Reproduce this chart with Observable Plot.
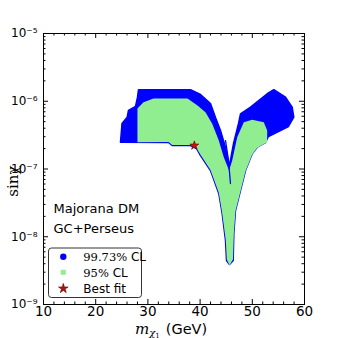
<!DOCTYPE html>
<html>
<head>
<meta charset="utf-8">
<script src="https://cdn.jsdelivr.net/npm/d3@7"></script>
<script src="https://cdn.jsdelivr.net/npm/@observablehq/plot@0.6"></script>
<style>
  html, body { margin: 0; padding: 0; background: #fff; }
  svg { display: block; }
</style>
</head>
<body>
<div id="chart"></div>
<script>
// ---- data ----
// 99.73% CL region outline (mass in GeV, sin chi)
const blueMass = [24.75, 25.04, 26.03, 26.28, 27.62, 28.0, 28.2, 38.16, 40.08, 41.99, 42.95, 43.91, 44.87, 45.6,
  46.40, 47.36, 47.74, 49.66, 52.85, 54.12, 56.36, 57.64, 57.95, 56.93, 55.40, 53.10, 52.53,
  50.94, 49.98, 48.70, 47.74, 46.78, 46.46, 46.34, 45.63, 45.06, 44.87, 44.23, 43.58, 41.99, 40.08, 39.31, 38.16, 34.66, 33.95];
const blueSin = [2.49e-7, 4.70e-7, 5.82e-7, 7.30e-7, 8.37e-7, 1.14e-6, 1.48e-6, 1.48e-6, 1.26e-6, 9.27e-7, 5.76e-7, 3.70e-7, 2.08e-7, 1.10e-7,
  2.38e-7, 4.70e-7, 6.53e-7, 8.17e-7, 1.29e-6, 1.48e-6, 1.15e-6, 8.17e-7, 5.82e-7, 4.24e-7, 3.70e-7, 3.02e-7, 2.46e-7,
  2.10e-7, 1.68e-7, 9.5e-8, 4.82e-8, 2.44e-8, 1.12e-8, 4.46e-9, 3.89e-9, 4.46e-9, 8.8e-9, 2.20e-8, 4.35e-8, 9.5e-8, 1.58e-7, 2.01e-7, 2.22e-7, 2.22e-7, 2.46e-7];
// 95% CL region outline
const greenMass = [28.0, 28.0, 29.16, 31.07, 37.59, 39.5, 41.03, 42.32, 43.58, 44.54, 45.55,
  46.15, 47.11, 48.37, 49.98, 52.20, 52.85, 52.85, 50.94, 49.98, 48.70, 47.74, 46.78, 46.46, 46.30, 45.63, 45.12, 44.92, 44.23, 43.58, 41.99, 40.08, 39.31, 38.16, 34.66, 33.95];
const greenSin = [2.49e-7, 7.82e-7, 9.7e-7, 1.10e-6, 1.10e-6, 8.65e-7, 6.89e-7, 4.65e-7, 2.63e-7, 1.49e-7, 9.5e-8,
  1.34e-7, 2.95e-7, 4.91e-7, 5.32e-7, 4.91e-7, 3.70e-7, 2.49e-7, 2.06e-7, 1.64e-7, 9.3e-8, 4.7e-8, 2.4e-8, 1.1e-8, 4.6e-9, 3.8e-9, 4.6e-9, 8.9e-9, 2.25e-8, 4.45e-8, 9.7e-8, 1.62e-7, 2.05e-7, 2.26e-7, 2.26e-7, 2.5e-7];
// thin 99.73% streak inside the funnel
const streakMass = [44.87, 45.44, 45.82];
const streakSin = [2.63e-7, 1.34e-7, 6.1e-8];
// best fit point
const bestMass = [38.9];
const bestSin = [2.22e-7];

// axes
const xMajor = [10, 20, 30, 40, 50, 60];
const xMinor = d3.range(10, 61, 2).filter(v => v % 10 !== 0);
const yMajor = [1e-9, 1e-8, 1e-7, 1e-6, 1e-5];
const yExp = [-9, -8, -7, -6, -5];
const yMinor = [];
for (const e of [-9, -8, -7, -6]) for (let k = 2; k <= 9; k++) yMinor.push(k * Math.pow(10, e));
const supMap = {"-": "\u207B", "0": "\u2070", "1": "\u00B9", "2": "\u00B2", "3": "\u00B3", "4": "\u2074", "5": "\u2075", "6": "\u2076", "7": "\u2077", "8": "\u2078", "9": "\u2079"};
const sup = s => String(s).split("").map(c => supMap[c]).join("");

const blueData = blueMass.map((m, i) => ({m, s: blueSin[i]}));
const greenData = greenMass.map((m, i) => ({m, s: greenSin[i]}));
const streakData = streakMass.map((m, i) => ({m, s: streakSin[i]}));
const bestData = bestMass.map((m, i) => ({m, s: bestSin[i]}));

const W = 338, H = 338, mL = 43, mR = 34, mT = 33, mB = 34;
const fW = W - mL - mR, fH = H - mT - mB;

const blue = "#0000ff", green = "#90ee90";

const chart = Plot.plot({
  width: W, height: H,
  marginLeft: mL, marginRight: mR, marginTop: mT, marginBottom: mB,
  style: {fontFamily: "DejaVu Sans", fontSize: "13px", color: "black", background: "white"},
  x: {domain: [10, 60]},
  y: {type: "log", domain: [1e-9, 1e-5]},
  marks: [
    Plot.line(blueData, {x: "m", y: "s", fill: blue, stroke: blue, strokeWidth: 1.5, curve: "linear-closed"}),
    Plot.line(greenData, {x: "m", y: "s", fill: green, stroke: "none", curve: "linear-closed"}),
    Plot.line(streakData, {x: "m", y: "s", stroke: blue, strokeWidth: 1.3}),
    Plot.dot(bestData, {x: "m", y: "s", symbol: "star", r: 2.8, fill: "#d01010", stroke: "#600000", strokeWidth: 0.6}),
    Plot.frame({stroke: "black", strokeWidth: 1}),
    // inward ticks
    Plot.ruleX(xMajor, {x: d => d, insetTop: fH - 5, stroke: "black"}),
    Plot.ruleX(xMajor, {x: d => d, insetBottom: fH - 5, stroke: "black"}),
    Plot.ruleX(xMinor, {x: d => d, insetTop: fH - 2.5, stroke: "black"}),
    Plot.ruleX(xMinor, {x: d => d, insetBottom: fH - 2.5, stroke: "black"}),
    Plot.ruleY(yMajor, {y: d => d, insetRight: fW - 5, stroke: "black"}),
    Plot.ruleY(yMajor, {y: d => d, insetLeft: fW - 5, stroke: "black"}),
    Plot.ruleY(yMinor, {y: d => d, insetRight: fW - 2.5, stroke: "black"}),
    Plot.ruleY(yMinor, {y: d => d, insetLeft: fW - 2.5, stroke: "black"}),
    Plot.axisX(xMajor, {tickSize: 0, tickPadding: 2, fontSize: 13.5, label: null}),
    Plot.axisY(yMajor, {tickSize: 0, tickPadding: 6, fontSize: 12, label: null,
      tickFormat: d => "10" + sup(yExp[yMajor.indexOf(d)])}),
    // annotation text
    Plot.text(["Majorana DM"], {frameAnchor: "bottom-left", dx: 10, dy: -92, textAnchor: "start", fontSize: 13}),
    Plot.text(["GC+Perseus"], {frameAnchor: "bottom-left", dx: 10, dy: -72, textAnchor: "start", fontSize: 13})
  ]
});

const svg = d3.select(chart);
// axis titles
const xl = svg.append("text").attr("x", 135).attr("y", 333.5).attr("fill", "black").attr("text-anchor", "start");
xl.append("tspan").attr("font-family", "DejaVu Serif").attr("font-style", "italic").attr("font-size", 15).text("m");
xl.append("tspan").attr("font-family", "DejaVu Serif").attr("font-style", "italic").attr("font-size", 10).attr("dy", 2.5).text("\u03C7");
xl.append("tspan").attr("font-family", "DejaVu Serif").attr("font-size", 7).attr("dy", 1.5).text("1");
xl.append("tspan").attr("font-family", "DejaVu Sans").attr("font-size", 14.5).attr("dy", -4).attr("dx", 6).text("(GeV)");

svg.append("text").attr("transform", "translate(18,181) rotate(-90)").attr("text-anchor", "middle")
  .attr("font-family", "DejaVu Serif").attr("font-size", 15).attr("fill", "black")
  .text("sin\u03C7");

// legend
const lg = svg.append("g").attr("text-anchor", "start");
lg.append("rect").attr("x", 48.5).attr("y", 248).attr("width", 93).attr("height", 49.5).attr("rx", 3)
  .attr("fill", "white").attr("stroke", "#333").attr("stroke-width", 1);
lg.append("circle").attr("cx", 63.3).attr("cy", 256.7).attr("r", 3.2).attr("fill", blue);
lg.append("rect").attr("x", 60.8).attr("y", 269.8).attr("width", 5).attr("height", 5).attr("fill", green);
lg.append("path").attr("d", d3.symbol(d3.symbolStar, 30)()).attr("transform", "translate(63.3,288.5)")
  .attr("fill", "#b01010").attr("stroke", "#500000").attr("stroke-width", 0.5);
const rows = [["99.73%", " CL", 256.7], ["95%", " CL", 272.3], [null, "Best fit", 288.3]];
for (const [a, b, y] of rows) {
  const t = lg.append("text").attr("x", 83.3).attr("y", y).attr("dy", "0.35em").attr("fill", "black").attr("text-anchor", "start");
  if (a) t.append("tspan").attr("font-family", "DejaVu Serif").attr("font-size", 11.5).text(a);
  t.append("tspan").attr("font-family", "DejaVu Sans").attr("font-size", 12).text(b);
}

document.getElementById("chart").appendChild(chart);
</script>
</body>
</html>
